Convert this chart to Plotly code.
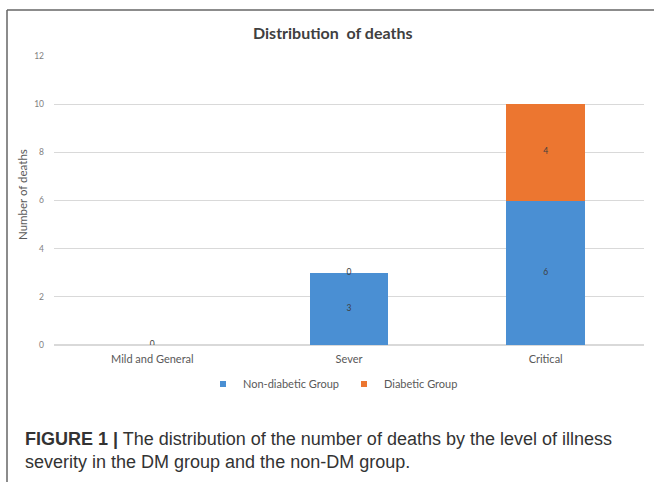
import plotly.graph_objects as go

# Severity levels and deaths per group
categories = ["Mild and General", "Sever", "Critical"]
non_diabetic = [0, 3, 6]
diabetic = [0, 0, 4]
series_names = ["Non-diabetic Group", "Diabetic Group"]

BLUE = "#4a8fd3"
ORANGE = "#ec7630"
TXT = "#595959"

W, H = 654, 482
ML, MR, MT, MB = 54, 10, 56, 137
PW = W - ML - MR
PH = H - MT - MB


def px_x(p):
    return (p - ML) / PW


def px_y(p):
    return (H - MB - p) / PH


fig = go.Figure()
fig.add_bar(x=categories, y=non_diabetic, name=series_names[0],
            marker=dict(color=BLUE, line=dict(width=0)), showlegend=False)
fig.add_bar(x=categories, y=diabetic, name=series_names[1],
            marker=dict(color=ORANGE, line=dict(width=0)), showlegend=False)

# small square legend keys
for nm, col in zip(series_names, [BLUE, ORANGE]):
    fig.add_scatter(x=[None], y=[None], mode="markers", name=nm,
                    marker=dict(symbol="square", size=6, color=col))

# value labels placed at the middle of each stacked segment
nd_mid = [v / 2 for v in non_diabetic]
d_mid = [n + d / 2 for n, d in zip(non_diabetic, diabetic)]
fig.add_scatter(x=categories, y=nd_mid, mode="text",
                text=[str(v) for v in non_diabetic],
                textfont=dict(size=8.5, color="#404040", family="Lato"),
                showlegend=False, hoverinfo="skip")
fig.add_scatter(x=categories[1:], y=d_mid[1:], mode="text",
                text=[str(v) for v in diabetic[1:]],
                textfont=dict(size=8.5, color="#404040", family="Lato"),
                showlegend=False, hoverinfo="skip")

fig.update_layout(
    width=W, height=H,
    margin=dict(l=ML, r=MR, t=MT, b=MB),
    barmode="stack", bargap=0.6,
    paper_bgcolor="white", plot_bgcolor="white",
    font=dict(family="Lato", color=TXT),
    showlegend=True,
    legend=dict(orientation="h", x=px_x(333), xanchor="center",
                y=px_y(384), yanchor="middle",
                font=dict(size=11, color=TXT), itemwidth=30,
                tracegroupgap=0, traceorder="normal"),
    xaxis=dict(showgrid=False, showline=False, ticks="",
               ticklabelstandoff=6,
               tickfont=dict(size=11, color=TXT)),
    yaxis=dict(range=[0, 12], dtick=2, showgrid=True, gridcolor="#d9d9d9",
               gridwidth=1, zeroline=True, zerolinecolor="#d9d9d9",
               showline=False, ticks="", ticklabelstandoff=9,
               tickfont=dict(size=8.5, color="#7f7f7f")),
    annotations=[
        dict(text="<b>Distribution  of deaths</b>", xref="paper", yref="paper",
             x=px_x(332), y=px_y(32), showarrow=False,
             font=dict(size=16, color="#404040", family="Lato"),
             xanchor="center", yanchor="middle"),
        dict(text="Number of deaths", xref="paper", yref="paper",
             x=px_x(22), y=px_y(195), showarrow=False, textangle=-90,
             font=dict(size=11.5, color=TXT), xanchor="center", yanchor="middle"),
        dict(text="<b>FIGURE 1 |</b> The distribution of the number of deaths by the level of illness"
                  "<br>severity in the DM group and the non-DM group.",
             xref="paper", yref="paper", x=px_x(23), y=px_y(450),
             showarrow=False, align="left", xanchor="left", yanchor="middle",
             font=dict(size=18, color="#333333", family="Liberation Sans")),
    ],
    shapes=[
        dict(type="line", xref="paper", yref="paper",
             x0=px_x(7), x1=px_x(7), y0=px_y(10), y1=px_y(H + 5),
             line=dict(color="#666666", width=1.5)),
        dict(type="line", xref="paper", yref="paper",
             x0=px_x(7), x1=px_x(W + 5), y0=px_y(10), y1=px_y(10),
             line=dict(color="#666666", width=1.5)),
    ],
)

fig.write_html("out.html")
